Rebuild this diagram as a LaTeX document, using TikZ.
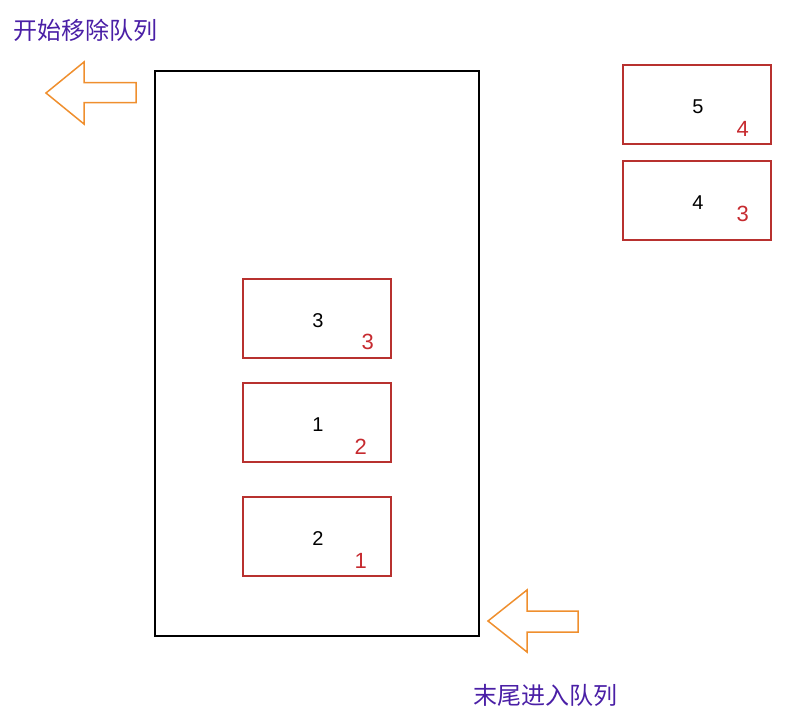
\documentclass[tikz,border=0pt]{standalone}
\usepackage{fontspec}
\setmainfont{Liberation Sans}
\newfontfamily\cjk{Noto Sans CJK SC}
\usetikzlibrary{positioning}
\definecolor{boxred}{HTML}{B8312F}
\definecolor{numred}{HTML}{C62A2F}
\definecolor{arroworange}{HTML}{EF8F2E}
\definecolor{titlepurple}{HTML}{4A1FA6}

\begin{document}
\begin{tikzpicture}[x=1pt,y=-1pt,
  elem/.style={draw=boxred, line width=1.6pt, minimum width=148pt, minimum height=79pt, inner sep=0pt},
  val/.style={font=\fontsize{20}{24}\selectfont, text=black, inner sep=0pt},
  ord/.style={font=\fontsize{22}{24}\selectfont, text=numred, inner sep=0pt},
  captext/.style={font=\cjk\fontsize{24}{28}\selectfont, text=titlepurple, inner sep=0pt},
  hollow/.style={draw=arroworange, line width=1.5pt, line join=miter}]
\useasboundingbox (0,0) rectangle (788,720);
% queue
\node[draw=black, line width=1.6pt, minimum width=324pt, minimum height=565pt, inner sep=0pt] (queue) at (317,353.5) {};
\node[elem] (e3) at (317,318.5) {};
\node[elem] (e1) at (317,422.5) {};
\node[elem] (e2) at (317,536.5) {};
\node[elem] (e5) at (697,104.5) {};
\node[elem] (e4) at (697,200.5) {};
% values
\node[val] (v3) at ([xshift=1pt,yshift=-2pt]e3.center) {3};
\node[val] (v1) at ([xshift=1pt,yshift=-2pt]e1.center) {1};
\node[val] (v2) at ([xshift=1pt,yshift=-2pt]e2.center) {2};
\node[val] (v5) at ([xshift=1pt,yshift=-2pt]e5.center) {5};
\node[val] (v4) at ([xshift=1pt,yshift=-2pt]e4.center) {4};
% order
\node[ord] (o3) at ([xshift=-24pt,yshift=-23pt]e3.east) {3};
\node[ord] (o2) at ([xshift=-31pt,yshift=-24pt]e1.east) {2};
\node[ord] (o1) at ([xshift=-31pt,yshift=-24pt]e2.east) {1};
\node[ord] (o4) at ([xshift=-29pt,yshift=-24pt]e5.east) {4};
\node[ord] (o3b) at ([xshift=-29pt,yshift=-13pt]e4.east) {3};
% arrows
\draw[hollow] (46,93) -- (84,62) -- (84,82.5) -- (136,82.5) -- (136,102.5) -- (84,102.5) -- (84,124) -- cycle;
\draw[hollow] (488,621) -- (527,590) -- (527,611) -- (578,611) -- (578,632) -- (527,632) -- (527,652) -- cycle;
% captions
\node[captext, anchor=west] (out) at (13,30) {开始移除队列};
\node[captext, anchor=west] (in) at (473,695) {末尾进入队列};
\end{tikzpicture}
\end{document}
